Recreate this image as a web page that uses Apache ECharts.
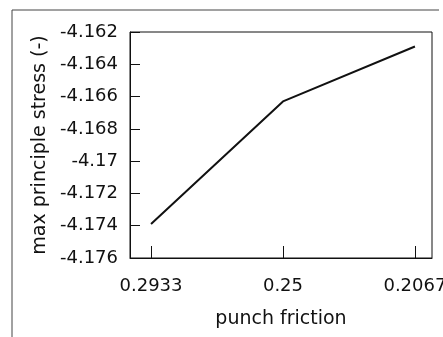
<!DOCTYPE html>
<html>
<head>
<meta charset="utf-8">
<script src="https://cdn.jsdelivr.net/npm/echarts@6/dist/echarts.min.js"></script>
<style>
  html, body { margin: 0; padding: 0; background: #fff; }
  #chart { width: 443px; height: 337px; }
</style>
</head>
<body>
<div id="chart"></div>
<script>
// punch friction (x, shown decreasing left to right)
var friction = [0.2933, 0.25, 0.2067];
// max principle stress (-)
var stress = [-4.1739, -4.1663, -4.1629];
var yTicks = [-4.176, -4.174, -4.172, -4.17, -4.168, -4.166, -4.164, -4.162];

var chart = echarts.init(document.getElementById('chart'));
var font = 'DejaVu Sans';

chart.setOption({
    backgroundColor: '#fff',
    animation: false,
    grid: {
        left: 130, right: 11, top: 32, bottom: 79,
        outerBoundsMode: 'none',
        containLabel: false,
        show: true, borderColor: '#111', borderWidth: 1
    },
    xAxis: {
        type: 'value',
        inverse: true,
        min: 0.2011,
        max: 0.3002,
        name: 'punch friction',
        nameLocation: 'middle',
        nameGap: 52,
        nameTextStyle: { color: '#111', fontFamily: font, fontSize: 19 },
        splitLine: { show: false },
        axisLine: { lineStyle: { color: '#111', width: 1 } },
        axisTick: { inside: true, length: 12, customValues: friction, lineStyle: { color: '#111' } },
        axisLabel: {
            customValues: friction,
            margin: 19,
            hideOverlap: false,
            color: '#111', fontFamily: font, fontSize: 18,
            formatter: function (v) { return String(v); }
        }
    },
    yAxis: {
        type: 'value',
        min: yTicks[0],
        max: yTicks[yTicks.length - 1],
        name: 'max principle stress (-)',
        nameLocation: 'middle',
        nameGap: 77,
        nameTextStyle: { color: '#111', fontFamily: font, fontSize: 19 },
        splitLine: { show: false },
        axisLine: { show: true, lineStyle: { color: '#111', width: 1 } },
        axisTick: { inside: true, length: 10, customValues: yTicks, lineStyle: { color: '#111' } },
        axisLabel: {
            customValues: yTicks,
            margin: 12,
            color: '#111', fontFamily: font, fontSize: 18,
            formatter: function (v) { return String(parseFloat(v.toFixed(3))); }
        }
    },
    series: [{
        type: 'line',
        data: friction.map(function (f, i) { return [f, stress[i]]; }),
        showSymbol: false,
        lineStyle: { color: '#111', width: 2 }
    }],
    graphic: [
        { type: 'line', shape: { x1: 12, y1: 10, x2: 12, y2: 337 }, style: { stroke: '#444', lineWidth: 1 } },
        { type: 'line', shape: { x1: 12, y1: 10, x2: 439, y2: 10 }, style: { stroke: '#444', lineWidth: 1 } }
    ]
});
</script>
</body>
</html>
